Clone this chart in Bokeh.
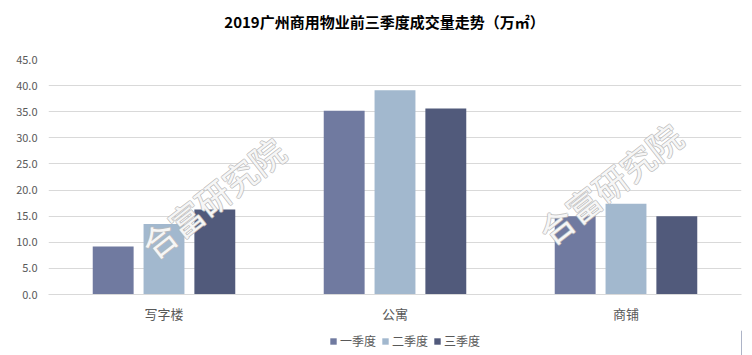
from bokeh.plotting import figure
from bokeh.layouts import column
from bokeh.models import FactorRange, Range1d, Legend, Label, SingleIntervalTicker, NumeralTickFormatter
from bokeh.transform import dodge
from bokeh.embed import file_html
from bokeh.resources import INLINE

title_text = "2019广州商用物业前三季度成交量走势（万㎡）"
categories = ["写字楼", "公寓", "商铺"]
series_names = ["一季度", "二季度", "三季度"]
q1 = [9.2, 35.2, 15.0]
q2 = [13.5, 39.1, 17.4]
q3 = [16.3, 35.6, 15.0]
colors = ["#707aa0", "#a2b8ce", "#515a7b"]

FONT = "Noto Sans CJK SC"

# title strip
tt = figure(width=752, height=40, x_range=Range1d(48, 741), y_range=Range1d(0, 40),
            output_backend="svg", toolbar_location=None, x_axis_type=None, y_axis_type=None,
            min_border=0, title=None)
tt.grid.visible = False
tt.outline_line_color = None
tt.add_layout(Label(x=384, y=19, text=title_text, text_align="center", text_baseline="middle",
                    text_font=FONT, text_font_size="15px", text_font_style="bold",
                    text_color="#000000"))

p = figure(width=752, height=290, x_range=FactorRange(*categories), y_range=Range1d(0, 45),
           output_backend="svg", toolbar_location=None, title=None,
           min_border_left=48, min_border_right=11, min_border_top=19, min_border_bottom=36)

data = {"cat": categories, "q1": q1, "q2": q2, "q3": q3}
offsets = [-0.22, 0.0, 0.22]
keys = ["q1", "q2", "q3"]
for k, off, c in zip(keys, offsets, colors):
    p.vbar(x=dodge("cat", off, range=p.x_range), top=k, width=0.177, source=data,
           fill_color=c, line_color=None)

p.yaxis.ticker = SingleIntervalTicker(interval=5)
p.yaxis.formatter = NumeralTickFormatter(format="0.0")
p.yaxis.axis_line_color = None
p.yaxis.major_tick_line_color = None
p.yaxis.minor_tick_line_color = None
p.yaxis.major_label_text_font = FONT
p.yaxis.major_label_text_font_size = "11px"
p.yaxis.major_label_text_color = "#595959"
p.yaxis.major_label_standoff = 5

p.xaxis.axis_line_color = "#d9d9d9"
p.xaxis.major_tick_line_color = None
p.xaxis.minor_tick_line_color = None
p.xaxis.major_label_text_font = FONT
p.xaxis.major_label_text_font_size = "13px"
p.xaxis.major_label_text_color = "#595959"
p.xaxis.major_label_standoff = 3

p.xgrid.grid_line_color = None
p.ygrid.grid_line_color = "#d9d9d9"
p.outline_line_color = None

# watermark (outlined text)
for wx, wy in [(0.71, 18.6), (2.43, 21.3)]:
    for dx, dy in [(-1, 0), (1, 0), (0, -1), (0, 1)]:
        p.add_layout(Label(x=wx, y=wy, text="合富研究院", angle=38, angle_units="deg",
                           x_offset=dx, y_offset=dy, text_align="center", text_baseline="middle",
                           text_font=FONT, text_font_size="34px",
                           text_color="#bcbcbc", text_alpha=0.8))
    p.add_layout(Label(x=wx, y=wy, text="合富研究院", angle=38, angle_units="deg",
                       text_align="center", text_baseline="middle",
                       text_font=FONT, text_font_size="34px",
                       text_color="#ffffff", text_alpha=0.9))

# legend strip
lg = figure(width=752, height=25, x_range=Range1d(0, 1), y_range=Range1d(0, 1),
            output_backend="svg", toolbar_location=None, x_axis_type=None, y_axis_type=None,
            min_border=0, title=None)
lg.grid.visible = False
lg.outline_line_color = None
items = []
for c, name in zip(colors, series_names):
    r = lg.vbar(x=[5], top=[5], width=0.1, fill_color=c, line_color=None)
    items.append((name, [r]))
legend = Legend(items=items, orientation="horizontal", location=(281, 6),
                label_text_font=FONT, label_text_font_size="12px", label_text_color="#595959",
                glyph_width=8, glyph_height=8, spacing=5, label_standoff=3,
                border_line_color=None, background_fill_alpha=0, margin=0, padding=2)
lg.add_layout(legend)

open("out.html", "w").write(file_html(column(tt, p, lg, spacing=0), INLINE))
